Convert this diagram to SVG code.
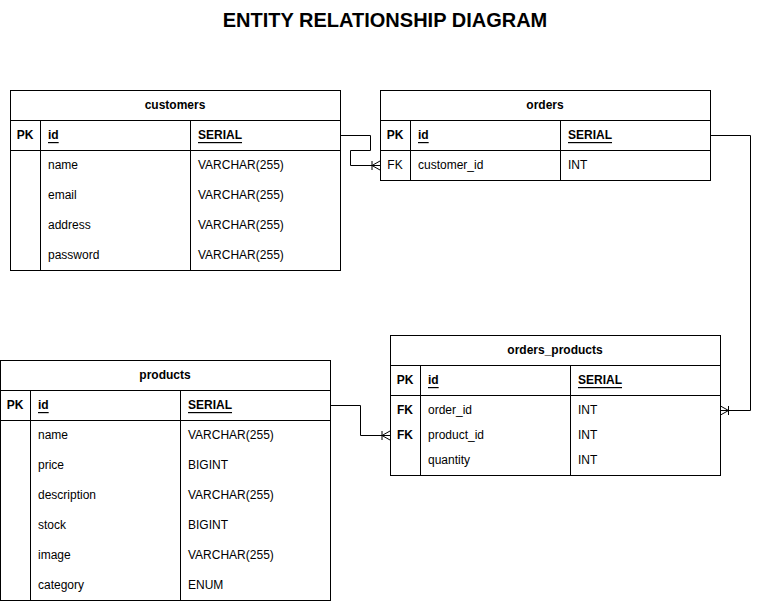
<svg xmlns="http://www.w3.org/2000/svg" width="767" height="601" viewBox="0 0 767 601">
<defs>
<style>
text{font-family:"Liberation Sans",Arial,Helvetica,sans-serif;font-size:12px;fill:#000;dominant-baseline:central}
.t{font-weight:bold;text-anchor:middle}
.k{font-weight:bold;text-anchor:middle}
.kn{text-anchor:middle}
.u{font-weight:bold;text-decoration:underline}
.box{fill:#fff;stroke:#000;stroke-width:1}
.ln{stroke:#000;stroke-width:1;fill:none}
.title{font-size:20px;font-weight:bold;text-anchor:middle;dominant-baseline:auto}
</style>
<marker id="many" markerUnits="userSpaceOnUse" markerWidth="10" markerHeight="12" viewBox="0 -6 10 12" refX="10" refY="0" orient="auto" overflow="visible">
<path d="M10,-4.5 L2,0 L10,4.5 M2,-4.5 L2,4.5" fill="none" stroke="#000" stroke-width="1"/>
</marker>
</defs>
<rect width="767" height="601" fill="#fff"/>
<text class="title" x="385" y="27">ENTITY RELATIONSHIP DIAGRAM</text>

<g id="connectors">
<path class="ln" d="M340.5,135.5 H370.5 V150.5 H350.5 V165.5 H380" marker-end="url(#many)"/>
<path class="ln" d="M710.5,135.5 H750.5 V410.5 H720.5" marker-end="url(#many)"/>
<path class="ln" d="M330.5,405.5 H360.5 V435.5 H390" marker-end="url(#many)"/>
</g>

<g id="customers">
<rect class="box" x="10.5" y="90.5" width="330" height="180"/>
<path class="ln" d="M10.5,120.5 H340.5 M10.5,150.5 H340.5 M40.5,120.5 V270.5 M190.5,120.5 V270.5"/>
<text class="t" x="175" y="105">customers</text>
<text class="k" x="25" y="135">PK</text>
<text class="u" x="48" y="135">id</text>
<text class="u" x="198" y="135">SERIAL</text>
<text x="48" y="165">name</text><text x="198" y="165">VARCHAR(255)</text>
<text x="48" y="195">email</text><text x="198" y="195">VARCHAR(255)</text>
<text x="48" y="225">address</text><text x="198" y="225">VARCHAR(255)</text>
<text x="48" y="255">password</text><text x="198" y="255">VARCHAR(255)</text>
</g>

<g id="orders">
<rect class="box" x="380.5" y="90.5" width="330" height="90"/>
<path class="ln" d="M380.5,120.5 H710.5 M380.5,150.5 H710.5 M410.5,120.5 V180.5 M560.5,120.5 V180.5"/>
<text class="t" x="545" y="105">orders</text>
<text class="k" x="395" y="135">PK</text>
<text class="u" x="418" y="135">id</text>
<text class="u" x="568" y="135">SERIAL</text>
<text class="kn" x="395" y="165">FK</text>
<text x="418" y="165">customer_id</text>
<text x="568" y="165">INT</text>
</g>

<g id="orders_products">
<rect class="box" x="390.5" y="335.5" width="330" height="140"/>
<path class="ln" d="M390.5,365.5 H720.5 M390.5,395.5 H720.5 M420.5,365.5 V475.5 M570.5,365.5 V475.5"/>
<text class="t" x="555" y="350">orders_products</text>
<text class="k" x="405" y="380">PK</text>
<text class="u" x="428" y="380">id</text>
<text class="u" x="578" y="380">SERIAL</text>
<text class="k" x="405" y="410">FK</text>
<text x="428" y="410">order_id</text><text x="578" y="410">INT</text>
<text class="k" x="405" y="435">FK</text>
<text x="428" y="435">product_id</text><text x="578" y="435">INT</text>
<text x="428" y="460">quantity</text><text x="578" y="460">INT</text>
</g>

<g id="products">
<rect class="box" x="0.5" y="360.5" width="330" height="240"/>
<path class="ln" d="M0.5,390.5 H330.5 M0.5,420.5 H330.5 M30.5,390.5 V600.5 M180.5,390.5 V600.5"/>
<text class="t" x="165" y="375">products</text>
<text class="k" x="15" y="405">PK</text>
<text class="u" x="38" y="405">id</text>
<text class="u" x="188" y="405">SERIAL</text>
<text x="38" y="435">name</text><text x="188" y="435">VARCHAR(255)</text>
<text x="38" y="465">price</text><text x="188" y="465">BIGINT</text>
<text x="38" y="495">description</text><text x="188" y="495">VARCHAR(255)</text>
<text x="38" y="525">stock</text><text x="188" y="525">BIGINT</text>
<text x="38" y="555">image</text><text x="188" y="555">VARCHAR(255)</text>
<text x="38" y="585">category</text><text x="188" y="585">ENUM</text>
</g>
</svg>
